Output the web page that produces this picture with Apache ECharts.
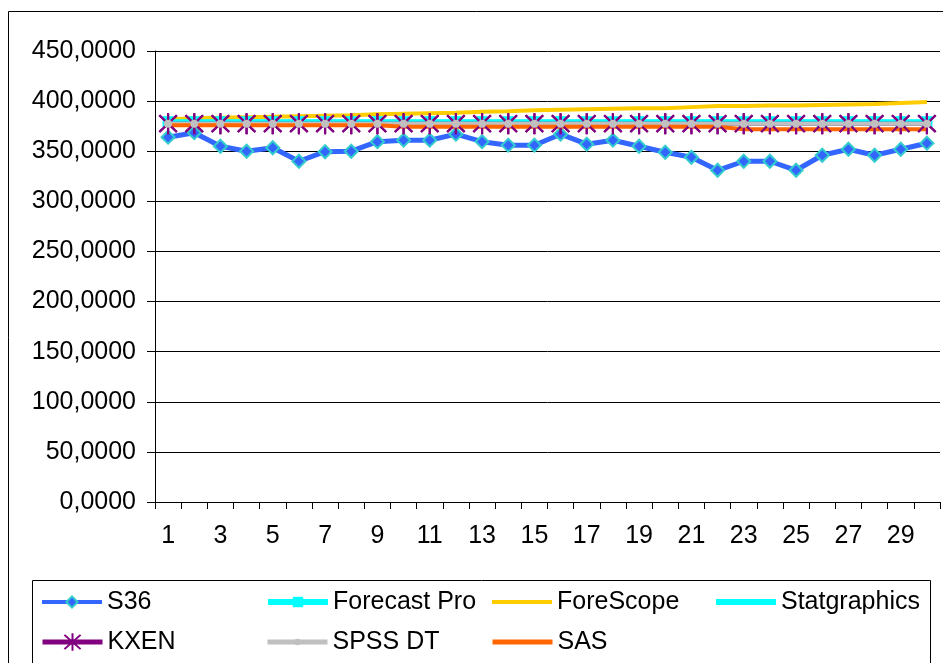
<!DOCTYPE html>
<html>
<head>
<meta charset="utf-8">
<script src="https://cdn.jsdelivr.net/npm/echarts@6/dist/echarts.min.js"></script>
<style>
  html, body { margin: 0; padding: 0; background: #fff; }
  #chart { width: 943px; height: 663px; }
</style>
</head>
<body>
<div id="chart"></div>
<script>
// Periods 1..30
const periods = Array.from({ length: 30 }, (_, i) => String(i + 1));

// Forecast values per method
const s36 = [364, 368.5, 355, 350, 353.5, 340, 349.5, 350, 359.5, 361, 361, 367, 359.5, 356, 356,
             367, 357, 361, 355, 349, 344, 331, 340, 340, 331, 346, 352, 346, 352, 358];
const forecastPro = [379.5, 379.5, 379.5, 379.5, 379.5, 379.5, 379.5, 379.5, 379.5, 379.5,
                     379.5, 379.5, 379.5, 379.5, 379.5, 379.5, 379.5, 379.5, 379.5, 379.5,
                     379.5, 379.5, 379.5, 379.5, 379.5, 379.5, 379.5, 379.5, 379.5, 379.5];
const foreScope = [382, 383, 383.5, 384, 384.5, 385, 385.5, 386, 387, 387.5, 388, 388.5, 389.5, 390, 391,
                   391.5, 392, 392.5, 393, 393, 394, 395, 395, 395.5, 395.5, 396, 396.5, 397, 398, 399];
const statgraphics = [379, 379, 379, 379, 379, 379, 379, 379, 379, 379,
                      379, 379, 379, 379, 379, 379, 379, 379, 379, 379,
                      379, 379, 379, 379, 379, 379, 379, 379, 379, 379];
const kxen = [377.5, 377.5, 377.5, 377.5, 377.5, 377.5, 377.5, 377.5, 377.5, 377.5,
              377.5, 377.5, 377.5, 377.5, 377.5, 377.5, 377.5, 377.5, 377.5, 377.5,
              377.5, 377.5, 377.5, 377.5, 377.5, 377.5, 377.5, 377.5, 377.5, 377.5];
const spssDT = [377.5, 377.5, 377.5, 377.5, 377.5, 377.5, 377.5, 377.5, 377.5, 377.5,
                377.5, 377.5, 377.5, 377.5, 377.5, 377.5, 377.5, 377.5, 377.5, 377.5,
                377.5, 377.5, 377.5, 377.5, 377.5, 377.5, 377.5, 377.5, 377.5, 377.5];
const sas = [376, 376, 376, 376, 376, 376, 376, 376, 376, 374.5,
             374.5, 374.5, 374.5, 374.5, 374.5, 374.5, 374.5, 374.5, 374.5, 374.5,
             374.5, 374.5, 372, 372, 372, 372, 372, 372, 372, 372];

// Asterisk marker: vertical bar plus two diagonals
const asterisk = 'path://M9,0L11,0L11,20L9,20Z' +
  'M1.3,2.7L2.7,1.3L18.7,17.3L17.3,18.7Z' +
  'M17.3,1.3L18.7,2.7L2.7,18.7L1.3,17.3Z';

const FONT = 'Liberation Sans, Arial, sans-serif';

const chart = echarts.init(document.getElementById('chart'), null, { renderer: 'canvas' });

// One legend entry per cell of a 4-column, 2-row box
function legendItem(name, left, rowCenter, opts) {
  const itemHeight = opts.itemHeight || 14;
  return {
    left: left, top: rowCenter - 13, padding: 0,
    itemWidth: 60, itemHeight: itemHeight,
    selectedMode: false,
    textStyle: { fontFamily: FONT, fontSize: 25, color: '#000', lineHeight: 26 },
    data: [{
      name: name,
      lineStyle: { width: opts.lineWidth },
      itemStyle: opts.noSymbol ? { opacity: 0 } : {}
    }]
  };
}
const ROW1 = 602, ROW2 = 642;

chart.setOption({
  animation: false,
  backgroundColor: '#fff',
  graphic: [
    { type: 'rect', shape: { x: 8.5, y: 11.5, width: 1000, height: 1000 },
      style: { fill: 'none', stroke: '#000', lineWidth: 1 }, silent: true, z: -1 },
    { type: 'rect', shape: { x: 32.5, y: 580.5, width: 898, height: 200 },
      style: { fill: 'none', stroke: '#000', lineWidth: 1 }, silent: true, z: -1 }
  ],
  grid: { left: 155, right: 3, top: 51, bottom: 161, containLabel: false },
  legend: [
    legendItem('S36', 40, ROW1, { lineWidth: 4 }),
    legendItem('Forecast Pro', 265, ROW1, { lineWidth: 6, itemHeight: 13 }),
    legendItem('ForeScope', 490, ROW1, { lineWidth: 4, noSymbol: true }),
    legendItem('Statgraphics', 713, ROW1, { lineWidth: 6, noSymbol: true }),
    legendItem('KXEN', 40, ROW2, { lineWidth: 5, itemHeight: 22 }),
    legendItem('SPSS DT', 265, ROW2, { lineWidth: 5, itemHeight: 8 }),
    legendItem('SAS', 490, ROW2, { lineWidth: 5, noSymbol: true })
  ],
  xAxis: {
    type: 'category', data: periods, boundaryGap: true,
    axisLine: { lineStyle: { color: '#000', width: 1 } },
    axisTick: { show: true, length: 7, interval: 0, lineStyle: { color: '#000' } },
    axisLabel: { interval: 1, margin: 22, fontFamily: FONT, fontSize: 25, color: '#000' }
  },
  yAxis: {
    type: 'value', min: 0, max: 450, interval: 50,
    axisLine: { show: true, lineStyle: { color: '#000', width: 1 } },
    axisTick: { show: true, length: 8, lineStyle: { color: '#000' } },
    splitLine: { show: true, lineStyle: { color: '#000', width: 1 } },
    axisLabel: {
      margin: 19, fontFamily: FONT, fontSize: 25, color: '#000',
      formatter: v => v.toFixed(4).replace('.', ',')
    }
  },
  series: [
    { name: 'S36', type: 'line', data: s36, z: 2, showAllSymbol: true,
      symbol: 'diamond', symbolSize: 13,
      lineStyle: { color: '#3366FF', width: 5 },
      itemStyle: { color: '#3366FF', borderColor: '#33CCCC', borderWidth: 2 } },
    { name: 'Forecast Pro', type: 'line', data: forecastPro, z: 4, showAllSymbol: true,
      symbol: 'rect', symbolSize: 11,
      lineStyle: { color: '#00FFFF', width: 4 },
      itemStyle: { color: '#00FFFF' } },
    { name: 'ForeScope', type: 'line', data: foreScope, z: 2,
      symbol: 'none',
      lineStyle: { color: '#FFCC00', width: 4 },
      itemStyle: { color: '#FFCC00' } },
    { name: 'Statgraphics', type: 'line', data: statgraphics, z: 3,
      symbol: 'none',
      lineStyle: { color: '#00FFFF', width: 6 },
      itemStyle: { color: '#00FFFF' } },
    { name: 'KXEN', type: 'line', data: kxen, z: 5, showAllSymbol: true,
      symbol: asterisk, symbolSize: [19, 21],
      lineStyle: { color: '#800080', width: 4 },
      itemStyle: { color: '#800080' } },
    { name: 'SPSS DT', type: 'line', data: spssDT, z: 6, showAllSymbol: true,
      symbol: 'circle', symbolSize: 8,
      lineStyle: { color: '#C0C0C0', width: 4 },
      itemStyle: { color: '#C0C0C0' } },
    { name: 'SAS', type: 'line', data: sas, z: 7,
      symbol: 'none',
      lineStyle: { color: '#FF6600', width: 4 },
      itemStyle: { color: '#FF6600' } },
    // KXEN markers drawn again above the orange line
    { name: 'KXEN', type: 'line', data: kxen, z: 8, showAllSymbol: true,
      symbol: asterisk, symbolSize: [19, 21],
      lineStyle: { opacity: 0 },
      itemStyle: { color: '#800080' } },
    // SPSS DT dots sit on top of the asterisk centres
    { name: 'SPSS DT', type: 'line', data: spssDT, z: 9, showAllSymbol: true,
      symbol: 'circle', symbolSize: 8,
      lineStyle: { opacity: 0 },
      itemStyle: { color: '#C0C0C0' } }
  ]
});
</script>
</body>
</html>
